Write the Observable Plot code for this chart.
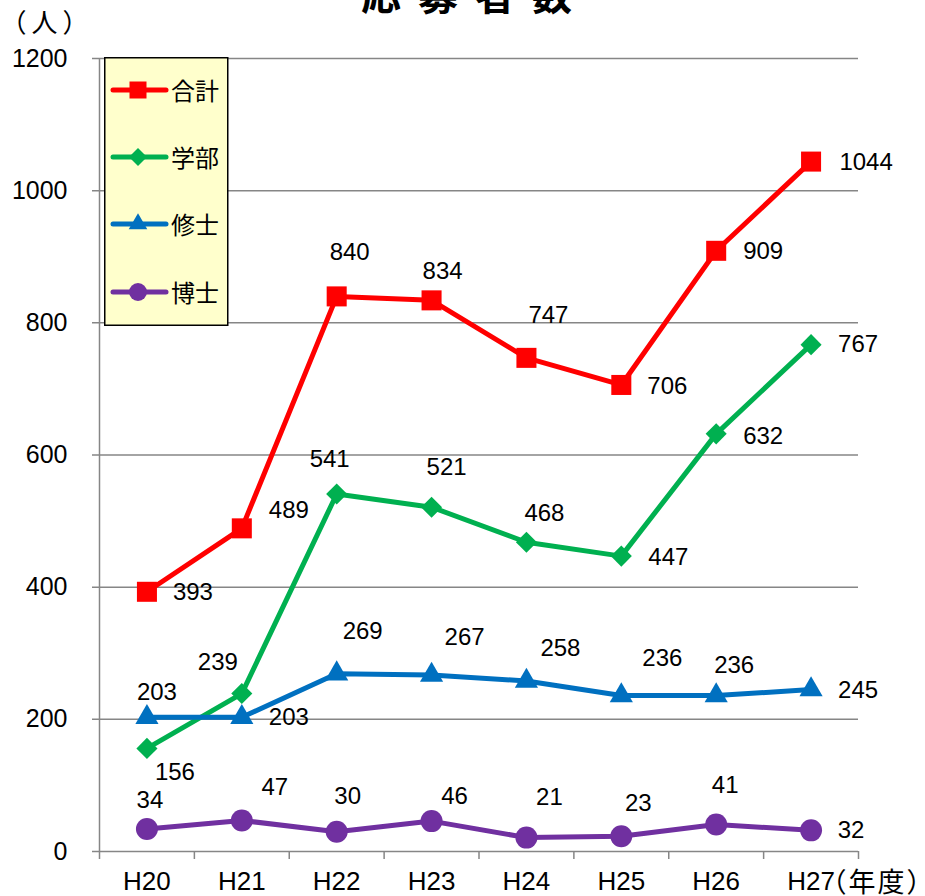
<!DOCTYPE html>
<html><head><meta charset="utf-8">
<script src="https://cdn.jsdelivr.net/npm/d3@7"></script>
<script src="https://cdn.jsdelivr.net/npm/@observablehq/plot@0.6"></script>
<style>
body{margin:0;background:#fff;}
#wrap{position:relative;width:925px;height:896px;overflow:hidden;}
</style></head><body><div id="wrap"></div>
<script>
// ---- data ----
const categories = ["H20","H21","H22","H23","H24","H25","H26","H27"];
const seriesNames = ["合計","学部","修士","博士"];
const totalValues = [393,489,840,834,747,706,909,1044];
const undergradValues = [156,239,541,521,468,447,632,767];
const masterValues = [203,203,269,267,258,236,236,245];
const doctorValues = [34,47,30,46,21,23,41,32];
const yTicks = [0,200,400,600,800,1000,1200];
const titleText = "応募者数";
const yUnitText = "（人）";
const xUnitText = "（年度）";

// ---- styling / layout ----
const seriesColors = ["#FF0000","#00B050","#0070C0","#7030A0"];
const seriesSymbols = ["square","diamond2","triangle","circle"];
const symbolR = [11.3, 9.5, 8.6, 11];
// data-label placement (pixel offsets of label centre from its point)
const labelOffsets = [
  [[46,1],[47,-18],[13,-44],[11,-29],[22,-43],[46,1],[47,1],[55,1]],
  [[28,24],[-24,-31],[-7,-35],[15,-40],[18,-29],[47,1],[47,2],[47,0]],
  [[10,-25],[47,0],[26,-42],[33,-38],[34,-33],[41,-37],[18,-30],[47,1]],
  [[3,-29],[33,-33],[11,-35],[23,-25],[23,-40],[17,-33],[9,-39],[40,0]]
];

const W = 925, H = 896, mL = 99, mR = 67, mT = 58, mB = 45;
const step = (W - mL - mR) / categories.length;
const FONT = '"Liberation Sans","Noto Sans CJK JP",sans-serif';
const CJK = '"Noto Sans CJK JP","Liberation Sans",sans-serif';
const GRID = "#868686";

const values = [totalValues, undergradValues, masterValues, doctorValues];
const rows = seriesNames.map((s, k) => categories.map((c, i) => ({series: s, cat: c, value: values[k][i]})));

const marks = [
  Plot.gridY({ticks: yTicks, stroke: GRID, strokeOpacity: 1, strokeWidth: 1.5, insetLeft: -7}),
  Plot.ruleX([categories[0]], {x: d => d, dx: -step / 2, stroke: GRID, strokeWidth: 1.5, insetBottom: -8}),
  Plot.ruleX(categories, {x: d => d, y1: 0, y2: 0, dx: step / 2, stroke: GRID, strokeWidth: 1.5, insetBottom: -8}),
  Plot.axisY({ticks: yTicks, tickFormat: d => String(d), tickSize: 0, tickPadding: 32, fontSize: 25, fill: "black", label: null}),
  Plot.axisX({tickSize: 0, tickPadding: 20, fontSize: 26, fill: "black", label: null})
];
rows.forEach((r, k) => {
  marks.push(Plot.line(r, {x: "cat", y: "value", stroke: seriesColors[k], strokeWidth: 5, strokeLinejoin: "round", strokeLinecap: "round"}));
  marks.push(Plot.dot(r, {x: "cat", y: "value", symbol: seriesSymbols[k], r: symbolR[k], fill: seriesColors[k], stroke: "none"}));
});
rows.forEach((r, k) => {
  r.forEach((d, i) => {
    marks.push(Plot.text([d], {x: "cat", y: "value", text: d => String(d.value), dx: labelOffsets[k][i][0], dy: labelOffsets[k][i][1], fontSize: 24, fill: "black"}));
  });
});
marks.push(Plot.text([titleText], {frameAnchor: "top", text: d => d, lineAnchor: "bottom", textAnchor: "middle", dx: -4, dy: 9 - mT, fontSize: 40, fontWeight: "bold", fontFamily: CJK, fill: "black"}));
marks.push(Plot.text([yUnitText], {frameAnchor: "top-left", text: d => d, lineAnchor: "bottom", textAnchor: "start", dx: -mL, dy: 31 - mT, fontSize: 26, fontFamily: CJK, fill: "black"}));
marks.push(Plot.text([xUnitText], {frameAnchor: "bottom-right", text: d => d, lineAnchor: "bottom", textAnchor: "start", dx: -39, dy: 40, fontSize: 27, fontFamily: CJK, fill: "black"}));

const chart = Plot.plot({
  width: W, height: H,
  marginLeft: mL, marginRight: mR, marginTop: mT, marginBottom: mB,
  style: {fontFamily: FONT, fontSize: "24px", color: "black", background: "white"},
  x: {type: "point", domain: categories, padding: 0.5, round: false},
  y: {domain: [0, 1200]},
  marks
});
const sel = d3.select(chart).selectAll("text");
sel.filter(function() { return this.textContent === titleText; }).style("letter-spacing", "17px");
sel.filter(function() { return this.textContent === yUnitText; }).style("letter-spacing", "5px");
sel.filter(function() { return this.textContent === xUnitText; }).style("letter-spacing", "2px");
document.getElementById("wrap").appendChild(chart);

// ---- legend ----
const leg = d3.select("#wrap").append("svg")
  .attr("width", 126).attr("height", 272)
  .style("position", "absolute").style("left", "104px").style("top", "57px");
leg.append("rect").attr("x", 0.75).attr("y", 0.75).attr("width", 123).attr("height", 267.5)
  .attr("fill", "#FFFFCC").attr("stroke", "black").attr("stroke-width", 1.5);
const legSym = [d3.symbolSquare, d3.symbolDiamond2, d3.symbolTriangle, d3.symbolCircle];
const legSize = [289, 206, 150, 254];
const legY = [33, 100, 167, 235];
seriesNames.forEach((s, k) => {
  const g = leg.append("g").attr("transform", `translate(0,${legY[k]})`);
  g.append("line").attr("x1", 9).attr("x2", 62).attr("y1", 0).attr("y2", 0)
    .attr("stroke", seriesColors[k]).attr("stroke-width", 5).attr("stroke-linecap", "round");
  g.append("path").attr("d", d3.symbol(legSym[k], legSize[k])()).attr("transform", "translate(34,0)")
    .attr("fill", seriesColors[k]);
  g.append("text").attr("x", 67).attr("y", 10).attr("font-size", 24).attr("font-family", CJK)
    .attr("fill", "black").text(s);
});
</script></body></html>
